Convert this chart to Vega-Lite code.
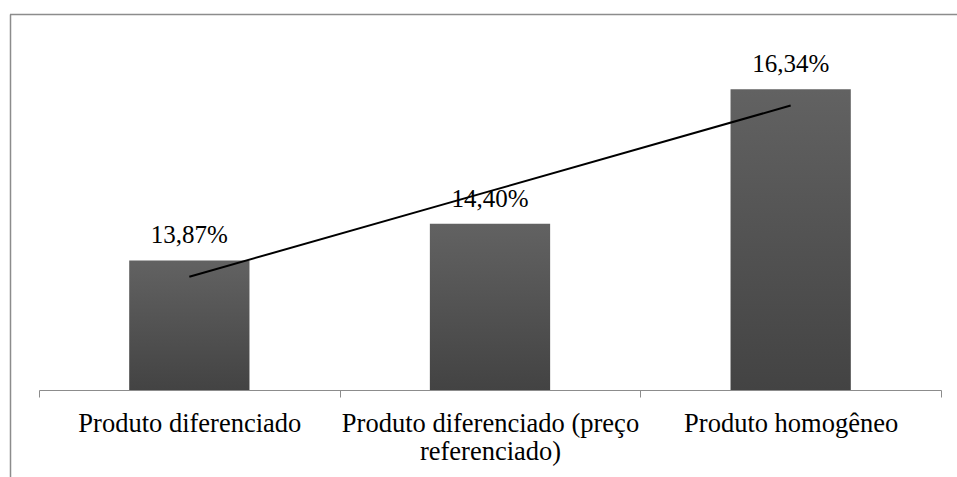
{
  "$schema": "https://vega.github.io/schema/vega-lite/v6.json",
  "width": 947,
  "height": 463,
  "autosize": "none",
  "padding": {"left": 10, "top": 14, "right": 0, "bottom": 0},
  "background": "white",
  "config": {"view": {"stroke": null}, "font": "'Liberation Serif', 'Times New Roman', serif"},
  "data": {
    "values": [
      {"cat": "Produto diferenciado", "value": 13.87, "label": "13,87%", "trend": 13.635},
      {"cat": "Produto diferenciado (preço referenciado)", "value": 14.40, "label": "14,40%", "trend": 14.87},
      {"cat": "Produto homogêneo", "value": 16.34, "label": "16,34%", "trend": 16.105}
    ]
  },
  "layer": [
    {
      "mark": {
        "type": "bar",
        "width": {"band": 0.4},
        "color": {
          "gradient": "linear", "x1": 0, "y1": 0, "x2": 0, "y2": 1,
          "stops": [{"offset": 0, "color": "#626262"}, {"offset": 1, "color": "#434343"}]
        }
      },
      "encoding": {
        "x": {
          "field": "cat", "type": "nominal", "sort": null,
          "scale": {"range": [29, 931], "paddingInner": 0, "paddingOuter": 0},
          "axis": {
            "title": null, "orient": "bottom", "offset": -87,
            "domainColor": "#8c8c8c", "domainWidth": 1,
            "tickColor": "#8c8c8c", "tickSize": 7, "tickWidth": 1, "tickBand": "extent",
            "labelAngle": 0, "labelFont": "'Liberation Serif', 'Times New Roman', serif", "labelFontSize": 26.5,
            "labelColor": "black", "labelPadding": 34, "labelBaseline": "alphabetic",
            "labelLineHeight": 28, "labelLimit": 0, "labelOverlap": false,
            "labelExpr": "datum.label == 'Produto diferenciado (preço referenciado)' ? ['Produto diferenciado (preço', 'referenciado)'] : datum.label"
          }
        },
        "y": {
          "field": "value", "type": "quantitative",
          "scale": {"domain": [10.745, 17.426], "nice": false, "zero": false},
          "axis": {
            "title": null, "labels": false, "ticks": false, "grid": false,
            "domainColor": "#8c8c8c", "domainWidth": 1.5
          }
        },
        "y2": {"datum": 12}
      }
    },
    {
      "mark": {"type": "text", "baseline": "alphabetic", "dy": -17, "fontSize": 25, "font": "'Liberation Serif', 'Times New Roman', serif", "color": "black"},
      "encoding": {
        "x": {"field": "cat", "type": "nominal", "sort": null},
        "y": {"field": "value", "type": "quantitative", "axis": {"title": null}},
        "text": {"field": "label"}
      }
    },
    {
      "mark": {"type": "line", "color": "black", "strokeWidth": 2},
      "encoding": {
        "x": {"field": "cat", "type": "nominal", "sort": null},
        "y": {"field": "trend", "type": "quantitative", "axis": {"title": null}}
      }
    },
    {
      "data": {"values": [{"edge": 17.42}]},
      "mark": {"type": "rule", "color": "#8c8c8c", "strokeWidth": 1.5},
      "encoding": {
        "y": {"field": "edge", "type": "quantitative", "axis": {"title": null}}
      }
    }
  ]
}
